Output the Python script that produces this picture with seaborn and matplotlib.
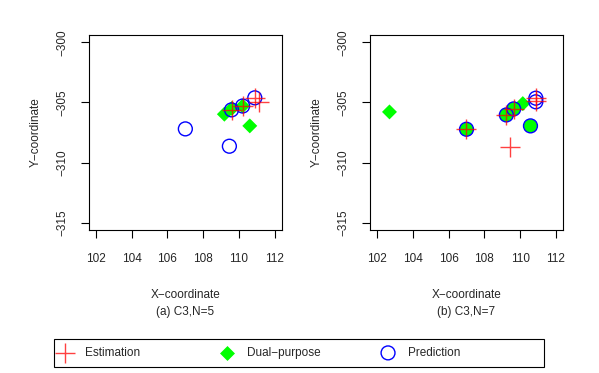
import matplotlib
matplotlib.use("Agg")
import matplotlib.pyplot as plt
import seaborn as sns
from matplotlib.patches import Rectangle

sns.set_style("white")
plt.rcParams['font.family'] = ['Liberation Sans', 'DejaVu Sans']
plt.rcParams['axes.unicode_minus'] = True

# ---- data: panel (a) C3, N=5 ----
est_a_x = [109.58, 110.20, 110.88, 111.10]
est_a_y = [-305.62, -305.30, -304.65, -304.93]
dual_a_x = [109.18, 109.60, 110.20, 110.60]
dual_a_y = [-305.98, -305.50, -305.30, -306.95]
pred_a_x = [107.00, 109.46, 109.58, 110.20, 110.88]
pred_a_y = [-307.20, -308.64, -305.62, -305.30, -304.62]

# ---- data: panel (b) C3, N=7 ----
est_b_x = [107.00, 109.23, 109.64, 110.88, 110.88, 109.46]
est_b_y = [-307.23, -306.04, -305.54, -304.65, -304.90, -308.67]
dual_b_diam_x = [102.69, 110.15]
dual_b_diam_y = [-305.79, -305.10]
dual_b_round_x = [107.00, 109.23, 109.64, 110.58]
dual_b_round_y = [-307.23, -306.04, -305.54, -306.95]
pred_b_x = [107.00, 109.23, 109.64, 110.58, 110.88, 110.88]
pred_b_y = [-307.23, -306.04, -305.54, -306.95, -304.65, -304.95]

xticks = [102, 104, 106, 108, 110, 112]
yticks = [-300, -305, -310, -315]
captions = ["(a) C3,N=5", "(b) C3,N=7"]

W, H = 599, 373
fig = plt.figure(figsize=(W / 100, H / 100), dpi=100)

FS = 8.5
RED = (1.0, 0.0, 0.0, 0.75)
GREEN = (0.0, 1.0, 0.0)
BLUE = (0.0, 0.0, 1.0)


def px_axes(x0, x1, y0, y1):
    return fig.add_axes([x0 / W, 1 - y1 / H, (x1 - x0) / W, (y1 - y0) / H])


def style_axes(ax):
    ax.set_xlim(101.6, 112.4)
    ax.set_ylim(-315.6, -299.4)
    ax.set_xticks(xticks)
    ax.set_yticks(yticks)
    ax.set_xticklabels([str(t) for t in xticks])
    ax.set_yticklabels([str(t).replace('-', '\u2212') for t in yticks],
                       rotation=90, va='center')
    ax.tick_params(direction='out', length=5.5, width=0.8, labelsize=FS,
                   color='black', bottom=True, left=True)
    ax.tick_params(axis='x', pad=11)
    ax.tick_params(axis='y', pad=9)
    for s in ax.spines.values():
        s.set_visible(True)
        s.set_color('black')
        s.set_linewidth(0.8)
    ax.set_xlabel('')
    ax.set_ylabel('')
    ax.grid(False)


axes_px = [(88.7, 282.0), (370.0, 563.0)]
panels = []
for (x0, x1) in axes_px:
    panels.append(px_axes(x0, x1, 35, 230))

axA, axB = panels

# Panel a
sns.scatterplot(x=dual_a_x, y=dual_a_y, marker='D', s=58, color=GREEN,
                edgecolor='none', linewidth=0, ax=axA, zorder=2)
sns.scatterplot(x=pred_a_x, y=pred_a_y, marker='o', s=100,
                facecolors='none', edgecolors=BLUE, linewidth=1.0,
                ax=axA, zorder=3)
sns.scatterplot(x=est_a_x, y=est_a_y, marker='+', s=207, color=RED,
                linewidth=1.0, ax=axA, zorder=4)

# Panel b
sns.scatterplot(x=dual_b_diam_x, y=dual_b_diam_y, marker='D', s=58, color=GREEN,
                edgecolor='none', linewidth=0, ax=axB, zorder=2)
sns.scatterplot(x=dual_b_round_x, y=dual_b_round_y, marker='o', s=95, color=GREEN,
                edgecolor='none', linewidth=0, ax=axB, zorder=2)
sns.scatterplot(x=pred_b_x, y=pred_b_y, marker='o', s=100,
                facecolors='none', edgecolors=BLUE, linewidth=1.0,
                ax=axB, zorder=3)
sns.scatterplot(x=est_b_x, y=est_b_y, marker='+', s=207, color=RED,
                linewidth=1.0, ax=axB, zorder=4)

for ax, (x0, x1), cap in zip(panels, axes_px, captions):
    style_axes(ax)
    cx = (x0 + x1) / 2 / W
    fig.text(cx, 1 - 295 / H, 'X\u2212coordinate', ha='center', va='center', fontsize=FS)
    fig.text(cx, 1 - 312 / H, cap, ha='center', va='center', fontsize=FS)
    fig.text((x0 - 53) / W, 1 - 132.5 / H, 'Y\u2212coordinate', ha='center', va='center',
             rotation=90, fontsize=FS)

# Legend
fig.patches.append(Rectangle((54 / W, 1 - 367 / H), 490 / W, 28 / H,
                             transform=fig.transFigure, fill=False,
                             edgecolor='black', linewidth=0.8))
handles = [
    axA.scatter([], [], marker='+', s=207, color=RED, linewidth=1.0),
    axA.scatter([], [], marker='D', s=58, color=GREEN, linewidth=0),
    axA.scatter([], [], marker='o', s=100, facecolors='none', edgecolors=BLUE, linewidth=1.0),
]
labels = ['Estimation', 'Dual\u2212purpose', 'Prediction']
starts = [55, 217, 378]
for h, lab, sx in zip(handles, labels, starts):
    fig.legend([h], [lab], loc='center left', bbox_to_anchor=(sx / W, 1 - 353 / H),
               frameon=False, fontsize=FS, handlelength=1.7, handletextpad=0.85,
               borderpad=0, borderaxespad=0, scatterpoints=1)

fig.savefig('out.png', dpi=100)
